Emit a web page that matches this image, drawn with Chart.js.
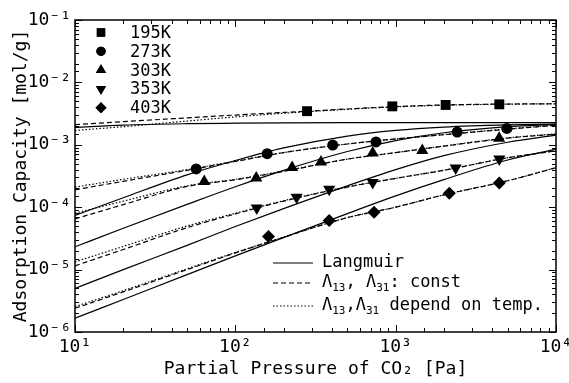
<!DOCTYPE html>
<html>
<head>
<meta charset="utf-8">
<script src="https://cdn.jsdelivr.net/npm/chart.js@4.4.1/dist/chart.umd.min.js"></script>
<style>
  html, body { margin: 0; padding: 0; background: #fff; }
  #wrap { width: 569px; height: 383px; }
</style>
</head>
<body>
<div id="wrap"><canvas id="graph"></canvas></div>
<script>
const pressure = [10, 20, 50, 100, 200, 500, 1000, 2000, 5000, 10000];

// measured points
const p195 = [280, 953, 2050, 4430];
const q195 = [3.46e-3, 4.13e-3, 4.35e-3, 4.45e-3];
const p273 = [57, 158, 405, 754, 2420, 4940];
const q273 = [4.1e-4, 7.2e-4, 9.9e-4, 1.11e-3, 1.6e-3, 1.83e-3];
const p303 = [64, 135, 226, 342, 719, 1466, 4420];
const q303 = [2.59e-4, 2.93e-4, 4.33e-4, 5.3e-4, 7.38e-4, 8.13e-4, 1.27e-3];
const p353 = [136, 241, 385, 719, 2366, 4430];
const q353 = [9.7e-5, 1.45e-4, 1.94e-4, 2.49e-4, 4.25e-4, 5.9e-4];
const p403 = [161, 385, 733, 2160, 4430];
const q403 = [3.39e-5, 6.12e-5, 8.3e-5, 1.68e-4, 2.44e-4];

// Langmuir (solid)
const lang195 = [1.9e-3, 2.07e-3, 2.18e-3, 2.22e-3, 2.25e-3, 2.26e-3, 2.26e-3, 2.26e-3, 2.26e-3, 2.26e-3];
const lang273 = [7.4e-5, 1.42e-4, 3.3e-4, 5.6e-4, 8.9e-4, 1.38e-3, 1.7e-3, 1.92e-3, 2.08e-3, 2.14e-3];
const lang303 = [2.32e-5, 4.6e-5, 1.11e-4, 2.13e-4, 3.9e-4, 7.8e-4, 1.17e-3, 1.56e-3, 1.95e-3, 2.13e-3];
const lang353 = [5.0e-6, 1.0e-5, 2.45e-5, 4.9e-5, 9.5e-5, 2.2e-4, 4.0e-4, 6.7e-4, 1.1e-3, 1.43e-3];
const lang403 = [1.66e-6, 3.32e-6, 8.3e-6, 1.66e-5, 3.26e-5, 7.9e-5, 1.52e-4, 2.77e-4, 5.7e-4, 8.5e-4];

// Lambda13, Lambda31 const (dashed)
const const195 = [2.1e-3, 2.35e-3, 2.7e-3, 3.0e-3, 3.3e-3, 3.75e-3, 4.1e-3, 4.35e-3, 4.5e-3, 4.55e-3];
const const273 = [1.9e-4, 2.6e-4, 3.9e-4, 5.4e-4, 7.5e-4, 1.03e-3, 1.24e-3, 1.45e-3, 1.78e-3, 2.05e-3];
const const303 = [6.5e-5, 1.1e-4, 2.15e-4, 2.75e-4, 3.75e-4, 5.9e-4, 7.5e-4, 9.5e-4, 1.28e-3, 1.48e-3];
const const353 = [1.15e-5, 2.1e-5, 4.7e-5, 7.8e-5, 1.25e-4, 2.1e-4, 2.9e-4, 3.9e-4, 6.2e-4, 8.0e-4];
const const403 = [2.4e-6, 4.4e-6, 1.0e-5, 1.85e-5, 3.3e-5, 6.8e-5, 1.0e-4, 1.58e-4, 2.65e-4, 4.3e-4];

// Lambda13, Lambda31 depend on temp. (dotted)
const temp195 = [1.7e-3, 1.95e-3, 2.4e-3, 2.8e-3, 3.2e-3, 3.7e-3, 4.05e-3, 4.3e-3, 4.48e-3, 4.53e-3];
const temp273 = [2.1e-4, 2.8e-4, 4.0e-4, 5.5e-4, 7.5e-4, 1.03e-3, 1.24e-3, 1.46e-3, 1.8e-3, 2.07e-3];
const temp303 = [8.0e-5, 1.25e-4, 2.2e-4, 2.8e-4, 3.8e-4, 5.9e-4, 7.5e-4, 9.6e-4, 1.29e-3, 1.5e-3];
const temp353 = [1.33e-5, 2.35e-5, 5.0e-5, 8.0e-5, 1.27e-4, 2.12e-4, 2.9e-4, 3.92e-4, 6.2e-4, 8.0e-4];
const temp403 = [2.55e-6, 4.6e-6, 1.03e-5, 1.88e-5, 3.32e-5, 6.8e-5, 1.0e-4, 1.58e-4, 2.66e-4, 4.3e-4];

const tempLabels = ['195K', '273K', '303K', '353K', '403K'];
// legend texts, [text, subscript?] pieces
const lineLabels = [
  [['Langmuir', false]],
  [['Λ', false], ['13', true], [', Λ', false], ['31', true], [': const', false]],
  [['Λ', false], ['13', true], [',Λ', false], ['31', true], [' depend on temp.', false]],
];

const FONT = '"DejaVu Sans Mono", monospace';
const DASH = [5, 3];
const DOT = [1.5, 2];
const markers = [
  { pointStyle: 'rect', radius: 7, rotation: 0 },
  { pointStyle: 'circle', radius: 5.5, rotation: 0 },
  { pointStyle: 'triangle', radius: 7, rotation: 0 },
  { pointStyle: 'triangle', radius: 7, rotation: 180 },
  { pointStyle: 'rectRot', radius: 6.5, rotation: 0 },
];

function curve(values, dash) {
  return {
    type: 'line',
    data: pressure.map((p, i) => ({ x: p, y: values[i] })),
    borderColor: '#000',
    borderWidth: 1.2,
    borderDash: dash,
    pointRadius: 0,
    cubicInterpolationMode: 'monotone',
    fill: false,
  };
}

function points(ps, qs, m) {
  return {
    type: 'scatter',
    data: ps.map((p, i) => ({ x: p, y: qs[i] })),
    pointStyle: m.pointStyle,
    pointRadius: m.radius,
    pointRotation: m.rotation,
    backgroundColor: '#000',
    borderColor: '#000',
    borderWidth: 0,
    showLine: false,
  };
}

const sup = { '-': '⁻', '0': '⁰', '1': '¹', '2': '²', '3': '³', '4': '⁴', '5': '⁵', '6': '⁶', '7': '⁷', '8': '⁸', '9': '⁹' };
function decadeLabel(v) {
  const e = Math.log10(v);
  if (Math.abs(e - Math.round(e)) > 1e-6) return '';
  return '10' + String(Math.round(e)).split('').map((c) => sup[c]).join('');
}
function isMajor(v) {
  const e = Math.log10(v);
  return Math.abs(e - Math.round(e)) < 1e-6;
}

function richText(ctx, pieces, x, y) {
  pieces.forEach(([t, sub]) => {
    ctx.font = (sub ? '11px ' : '17px ') + FONT;
    ctx.fillText(t, x, sub ? y + 5 : y);
    x += ctx.measureText(t).width;
  });
}

// inward ticks on all four sides + frame + the two legends
const framePlugin = {
  id: 'frame',
  afterDatasetsDraw(chart) {
    const { ctx, chartArea: a, scales } = chart;
    ctx.save();
    ctx.strokeStyle = '#000';
    ctx.lineWidth = 1;
    ctx.setLineDash([]);
    scales.x.ticks.forEach((t) => {
      const px = Math.round(scales.x.getPixelForValue(t.value)) + 0.5;
      const len = isMajor(t.value) ? 7 : 4;
      ctx.beginPath();
      ctx.moveTo(px, a.bottom); ctx.lineTo(px, a.bottom - len);
      ctx.moveTo(px, a.top); ctx.lineTo(px, a.top + len);
      ctx.stroke();
    });
    scales.y.ticks.forEach((t) => {
      const py = Math.round(scales.y.getPixelForValue(t.value)) + 0.5;
      const len = isMajor(t.value) ? 7 : 4;
      ctx.beginPath();
      ctx.moveTo(a.left, py); ctx.lineTo(a.left + len, py);
      ctx.moveTo(a.right, py); ctx.lineTo(a.right - len, py);
      ctx.stroke();
    });
    ctx.lineWidth = 1.5;
    ctx.strokeRect(a.left, a.top, a.right - a.left, a.bottom - a.top);

    // temperature legend (top left)
    ctx.font = '17px ' + FONT;
    ctx.fillStyle = '#000';
    ctx.textBaseline = 'middle';
    ctx.textAlign = 'left';
    tempLabels.forEach((lab, i) => {
      const y = a.top + 12.5 + i * 18.8;
      const m = markers[i];
      Chart.helpers.drawPoint(ctx, { pointStyle: m.pointStyle, radius: m.radius * 0.85, rotation: m.rotation, borderWidth: 0 }, a.left + 26, y);
      ctx.fill();
      ctx.fillText(lab, a.left + 55, y + 1);
    });

    // model legend (bottom right)
    const dashes = [[], DASH, DOT];
    lineLabels.forEach((pieces, i) => {
      const y = a.top + [243, 263, 286][i];
      ctx.beginPath();
      ctx.setLineDash(dashes[i]);
      ctx.lineWidth = 1.2;
      ctx.moveTo(a.left + 198, y);
      ctx.lineTo(a.left + 238, y);
      ctx.stroke();
      richText(ctx, pieces, a.left + 247, y);
    });
    ctx.restore();
  },
};

const datasets = [
  curve(lang195, []), curve(lang273, []), curve(lang303, []), curve(lang353, []), curve(lang403, []),
  curve(const195, DASH), curve(const273, DASH), curve(const303, DASH), curve(const353, DASH), curve(const403, DASH),
  curve(temp195, DOT), curve(temp273, DOT), curve(temp303, DOT), curve(temp353, DOT), curve(temp403, DOT),
  points(p195, q195, markers[0]),
  points(p273, q273, markers[1]),
  points(p303, q303, markers[2]),
  points(p353, q353, markers[3]),
  points(p403, q403, markers[4]),
];

new Chart(document.getElementById('graph').getContext('2d'), {
  type: 'scatter',
  data: { datasets },
  options: {
    responsive: true,
    maintainAspectRatio: false,
    animation: false,
    layout: { padding: { top: 20, right: 13, left: 0, bottom: 0 } },
    plugins: { legend: { display: false }, tooltip: { enabled: false } },
    scales: {
      x: {
        type: 'logarithmic',
        min: 10,
        max: 10000,
        grid: { display: false, drawTicks: false },
        border: { display: false },
        ticks: {
          autoSkip: false, maxRotation: 0, padding: 5,
          color: '#000', font: { family: FONT, size: 18 },
          callback: (v) => decadeLabel(v),
        },
        title: {
          display: true, text: 'Partial Pressure of CO₂ [Pa]', color: '#000',
          font: { family: FONT, size: 18 }, padding: { top: 0, bottom: 3 },
        },
        afterFit(s) { s.height = 51; s.paddingLeft = 0; s.paddingRight = 0; },
      },
      y: {
        type: 'logarithmic',
        min: 1e-6,
        max: 1e-1,
        grid: { display: false, drawTicks: false },
        border: { display: false },
        ticks: {
          autoSkip: false, padding: 4,
          color: '#000', font: { family: FONT, size: 18 },
          callback: (v) => decadeLabel(v),
        },
        title: {
          display: true, text: 'Adsorption Capacity [mol/g]', color: '#000',
          font: { family: FONT, size: 18 }, padding: { top: 11, bottom: 0 },
        },
        afterFit(s) { s.width = 75; s.paddingTop = 0; s.paddingBottom = 0; },
      },
    },
  },
  plugins: [framePlugin],
});
</script>
</body>
</html>
